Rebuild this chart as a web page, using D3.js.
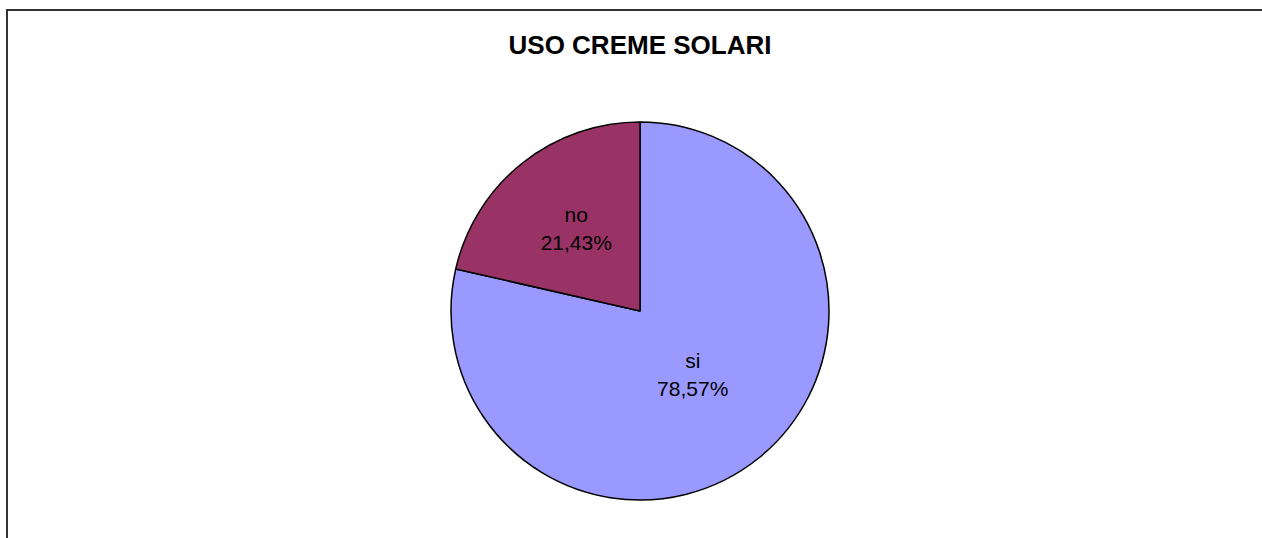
<!DOCTYPE html>
<html>
<head>
<meta charset="utf-8">
<script src="https://cdn.jsdelivr.net/npm/d3@7/dist/d3.min.js"></script>
<style>
  html, body { margin: 0; padding: 0; background: #fff; }
  svg { display: block; }
</style>
</head>
<body>
<svg id="chart" width="1262" height="538"></svg>
<script>
// Survey answers: use of sun creams
const categories = ["si", "no"];
const shares = [78.57, 21.43];
const sliceColors = ["#9999FF", "#993366"];
const title = "USO CREME SOLARI";

const W = 1262, H = 538;
const svg = d3.select("#chart");

// chart frame (extends beyond the right and bottom edges)
svg.append("path")
  .attr("d", `M7,${H + 5} L7,10 L${W + 5},10`)
  .attr("fill", "none")
  .attr("stroke", "#333")
  .attr("stroke-width", 2);

svg.append("text")
  .attr("x", 640)
  .attr("y", 54)
  .attr("text-anchor", "middle")
  .attr("font-family", "Liberation Sans, Arial, sans-serif")
  .attr("font-weight", "bold")
  .attr("font-size", 26)
  .attr("fill", "#000")
  .text(title);

const cx = 640, cy = 311, r = 189;
const g = svg.append("g").attr("transform", `translate(${cx},${cy})`);

const data = categories.map((c, i) => ({ name: c, value: shares[i], color: sliceColors[i] }));
const pie = d3.pie().value(d => d.value).sort(null);
const arcs = pie(data);
const arc = d3.arc().innerRadius(0).outerRadius(r);
const labelArc = d3.arc().innerRadius(r * 0.494).outerRadius(r * 0.494);

g.selectAll("path.slice")
  .data(arcs)
  .join("path")
  .attr("class", "slice")
  .attr("d", arc)
  .attr("fill", d => d.data.color)
  .attr("stroke", "#000")
  .attr("stroke-width", 1.5)
  .attr("stroke-linejoin", "round");

const fmt = v => v.toFixed(2).replace(".", ",") + "%";

const labels = g.selectAll("text.lbl")
  .data(arcs)
  .join("text")
  .attr("class", "lbl")
  .attr("text-anchor", "middle")
  .attr("font-family", "Liberation Sans, Arial, sans-serif")
  .attr("font-size", 21)
  .attr("fill", "#000")
  .attr("transform", d => {
    const [x, y] = labelArc.centroid(d);
    return `translate(${x},${y})`;
  });

labels.append("tspan").attr("x", -5.5).attr("y", -16).text(d => d.data.name);
labels.append("tspan").attr("x", -5.5).attr("y", 12.3).text(d => fmt(d.data.value));
</script>
</body>
</html>
